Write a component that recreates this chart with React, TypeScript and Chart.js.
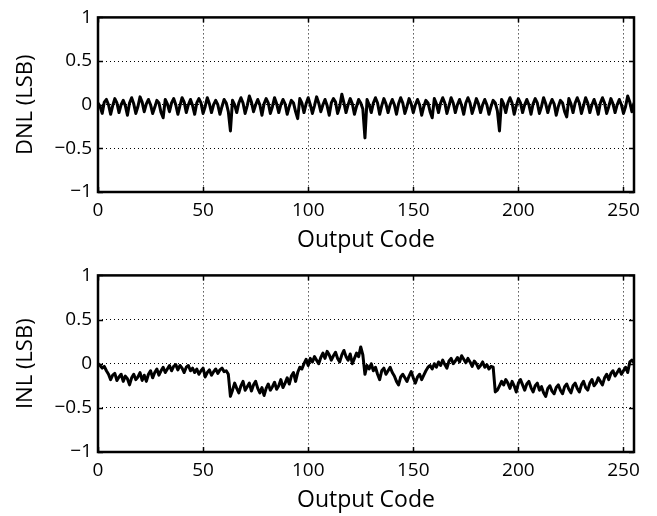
import React, { useEffect, useRef } from "react";
import { Chart, registerables } from "chart.js";

Chart.register(...registerables);

const xTicks = [0, 50, 100, 150, 200, 250];
const yTicks = [-1, -0.5, 0, 0.5, 1];
const yTickLabels: Record<string, string> = { "-1": "\u22121", "-0.5": "\u22120.5", "0": "0", "0.5": "0.5", "1": "1" };

const dnl = [
  0.02, -0.02, -0.1, 0.03, 0.06, 0.0, -0.11, -0.01, 0.07, 0.02, -0.09, 0.0, 0.05, -0.01, -0.12, 0.02,
  0.08, 0.01, -0.1, -0.02, 0.09, 0.03, -0.08, 0.01, 0.06, 0.0, -0.1, -0.03, 0.05, 0.02, -0.09, -0.15,
  0.06, 0.01, -0.08, 0.02, 0.07, 0.0, -0.11, -0.01, 0.08, 0.03, -0.09, 0.0, 0.06, -0.01, -0.11, 0.02,
  0.07, 0.02, -0.1, -0.02, 0.08, 0.01, -0.09, 0.0, 0.05, 0.0, -0.11, -0.02, 0.06, 0.02, -0.08, -0.3,
  0.05, 0.0, -0.09, 0.02, 0.08, 0.02, -0.1, -0.01, 0.1, 0.03, -0.08, 0.0, 0.06, 0.0, -0.12, 0.01,
  0.07, 0.02, -0.1, -0.02, 0.08, 0.01, -0.09, 0.0, 0.06, 0.01, -0.11, -0.02, 0.05, 0.02, -0.08, -0.16,
  0.07, 0.02, -0.09, 0.01, 0.08, 0.0, -0.1, -0.01, 0.09, 0.02, -0.08, 0.0, 0.06, -0.01, -0.12, 0.02,
  0.07, 0.03, -0.1, -0.02, 0.12, 0.02, -0.09, 0.0, 0.07, 0.01, -0.11, -0.02, 0.06, 0.02, -0.05, -0.38,
  0.06, 0.0, -0.09, 0.02, 0.08, 0.02, -0.11, -0.01, 0.07, 0.01, -0.09, 0.0, 0.06, 0.0, -0.11, 0.01,
  0.08, 0.02, -0.1, -0.02, 0.07, 0.01, -0.09, 0.0, 0.06, 0.0, -0.12, -0.02, 0.05, 0.02, -0.08, -0.15,
  0.07, 0.01, -0.09, 0.02, 0.08, 0.02, -0.1, -0.01, 0.08, 0.02, -0.09, 0.0, 0.06, -0.01, -0.11, 0.02,
  0.08, 0.02, -0.1, -0.02, 0.07, 0.01, -0.09, 0.0, 0.06, 0.0, -0.11, -0.02, 0.05, 0.02, -0.07, -0.3,
  0.06, 0.01, -0.09, 0.02, 0.08, 0.02, -0.11, -0.01, 0.07, 0.02, -0.09, 0.0, 0.06, 0.0, -0.11, 0.01,
  0.07, 0.02, -0.1, -0.02, 0.08, 0.01, -0.09, 0.0, 0.06, 0.01, -0.12, -0.02, 0.05, 0.02, -0.08, -0.14,
  0.07, 0.01, -0.09, 0.02, 0.08, 0.02, -0.1, -0.01, 0.08, 0.02, -0.09, 0.0, 0.06, -0.01, -0.11, 0.02,
  0.08, 0.02, -0.1, -0.02, 0.07, 0.01, -0.09, 0.0, 0.06, 0.0, -0.1, -0.02, 0.1, 0.03, -0.08, 0.02,
];

const inl = [
  0.0, -0.02, -0.05, -0.03, -0.08, -0.12, -0.18, -0.13, -0.11, -0.19, -0.15, -0.12, -0.2, -0.14, -0.17, -0.24,
  -0.16, -0.12, -0.18, -0.15, -0.1, -0.19, -0.13, -0.2, -0.12, -0.08, -0.16, -0.1, -0.06, -0.13, -0.08, -0.04,
  -0.1, -0.06, -0.02, -0.08, -0.03, -0.01, -0.07, -0.02, -0.05, -0.1, -0.04, -0.02, -0.08, -0.05, -0.1, -0.06,
  -0.12, -0.08, -0.05, -0.15, -0.1, -0.07, -0.13, -0.09, -0.06, -0.11, -0.07, -0.05, -0.09, -0.08, -0.12, -0.37,
  -0.3, -0.22, -0.28, -0.33, -0.25, -0.2, -0.3, -0.26, -0.22, -0.31, -0.24, -0.2, -0.28, -0.33, -0.27, -0.36,
  -0.28, -0.23, -0.3, -0.26, -0.21, -0.29, -0.25, -0.18, -0.27, -0.22, -0.16, -0.23, -0.14, -0.1, -0.2, -0.1,
  -0.04, -0.06, 0.0, 0.05, -0.02, 0.06, 0.02, 0.08, 0.04, 0.0, 0.07, 0.12, 0.06, 0.14, 0.1, 0.04,
  0.09, 0.13, 0.06, 0.02, 0.1, 0.15, 0.08, 0.04, 0.11, 0.0, 0.06, 0.12, 0.08, 0.19, 0.1, -0.12,
  -0.02, -0.06, 0.0, -0.08, -0.04, -0.12, -0.18, -0.08, -0.05, -0.12, -0.08, -0.04, -0.1, -0.14, -0.2, -0.24,
  -0.15, -0.12, -0.16, -0.2, -0.14, -0.09, -0.16, -0.22, -0.15, -0.12, -0.18, -0.13, -0.08, -0.04, -0.02, -0.06,
  0.0, -0.04, 0.02, -0.02, 0.04, -0.01, -0.05, 0.03, 0.06, 0.0, 0.03, 0.07, 0.02, 0.09, 0.05, 0.01,
  0.06, 0.02, -0.03, 0.03, 0.0, -0.05, -0.02, 0.02, -0.04, -0.01, -0.06, -0.03, -0.04, -0.32, -0.3, -0.25,
  -0.2, -0.24, -0.18, -0.22, -0.28, -0.2, -0.25, -0.32, -0.22, -0.18, -0.24, -0.3, -0.23, -0.2, -0.27, -0.32,
  -0.25, -0.22, -0.3, -0.26, -0.33, -0.37, -0.28, -0.25, -0.31, -0.34, -0.27, -0.24, -0.3, -0.34, -0.26, -0.23,
  -0.29, -0.33, -0.25, -0.22, -0.28, -0.32, -0.24, -0.2, -0.27, -0.3, -0.22, -0.18, -0.25, -0.22, -0.16, -0.2,
  -0.24, -0.16, -0.12, -0.18, -0.11, -0.08, -0.14, -0.1, -0.06, -0.12, -0.08, -0.04, -0.1, 0.02, 0.04, 0.01,
];

const FONT = "'Open Sans', 'Liberation Sans', sans-serif";
const W = 657;
const H = 258;
const PLOT_LEFT = 98;
const PLOT_RIGHT = 634;

const framePlugin = {
  id: "frame",
  afterDraw(chart: any) {
    const { ctx, chartArea } = chart;
    const { left, right, top, bottom } = chartArea;
    const xs = chart.scales.x;
    const ys = chart.scales.y;
    ctx.save();
    ctx.strokeStyle = "#000";
    ctx.lineWidth = 1.5;
    const tl = 5;
    ctx.beginPath();
    for (const v of xTicks) {
      const px = Math.round(xs.getPixelForValue(v)) + 0.5;
      ctx.moveTo(px, bottom);
      ctx.lineTo(px, bottom - tl);
      ctx.moveTo(px, top);
      ctx.lineTo(px, top + tl);
    }
    for (const v of yTicks) {
      const py = Math.round(ys.getPixelForValue(v)) + 0.5;
      ctx.moveTo(left, py);
      ctx.lineTo(left + tl, py);
      ctx.moveTo(right, py);
      ctx.lineTo(right - tl, py);
    }
    ctx.stroke();
    ctx.lineWidth = 2.5;
    ctx.strokeRect(left, top, right - left, bottom - top);
    ctx.restore();
  },
};

function makeConfig(values: number[], yLabel: string, top: number, bottom: number, xTitlePad: number): any {
  return {
    type: "line",
    data: {
      datasets: [
        {
          data: values.map((v, i) => ({ x: i, y: v })),
          borderColor: "#000",
          borderWidth: 3,
          pointRadius: 0,
          tension: 0,
          fill: false,
          borderJoinStyle: "round",
        },
      ],
    },
    options: {
      animation: false,
      responsive: false,
      devicePixelRatio: 1,
      layout: { padding: { left: 0, right: W - PLOT_RIGHT, top: top, bottom: 0 } },
      plugins: { legend: { display: false }, tooltip: { enabled: false } },
      scales: {
        x: {
          type: "linear",
          min: 0,
          max: 255,
          afterBuildTicks: (s: any) => {
            s.ticks = xTicks.map((v) => ({ value: v }));
          },
          afterFit: (s: any) => {
            s.height = H - bottom;
          },
          grid: { color: "#000", lineWidth: 1, drawTicks: false },
          border: { display: false, dash: [1, 3] },
          ticks: {
            color: "#000",
            font: { family: FONT, size: 19 },
            padding: 7,
            maxRotation: 0,
            autoSkip: false,
          },
          title: {
            display: true,
            text: "Output Code",
            color: "#000",
            font: { family: FONT, size: 23 },
            padding: { top: 0, bottom: xTitlePad },
          },
        },
        y: {
          type: "linear",
          min: -1,
          max: 1,
          afterBuildTicks: (s: any) => {
            s.ticks = yTicks.map((v) => ({ value: v }));
          },
          afterFit: (s: any) => {
            s.width = PLOT_LEFT;
          },
          grid: { color: "#000", lineWidth: 1, drawTicks: false },
          border: { display: false, dash: [1, 3] },
          ticks: {
            color: "#000",
            font: { family: FONT, size: 19 },
            padding: 6,
            autoSkip: false,
            callback: (v: number) => yTickLabels[String(v)] ?? String(v),
          },
          title: {
            display: true,
            text: yLabel,
            color: "#000",
            font: { family: FONT, size: 22 },
            padding: { top: 13, bottom: 0 },
          },
        },
      },
    },
    plugins: [framePlugin],
  };
}

function ChartCanvas({ values, yLabel, top, bottom, xTitlePad }: { values: number[]; yLabel: string; top: number; bottom: number; xTitlePad: number }) {
  const ref = useRef<HTMLCanvasElement | null>(null);
  useEffect(() => {
    if (!ref.current) return;
    const cfg = makeConfig(values, yLabel, top, bottom, xTitlePad);
    cfg.options.scales.x.border.dash = [1, 3];
    cfg.options.scales.y.border.dash = [1, 3];
    const chart = new Chart(ref.current, cfg);
    return () => chart.destroy();
  }, []);
  return <canvas ref={ref} width={W} height={H} style={{ display: "block", width: W, height: H }} />;
}

export default function App() {
  useEffect(() => {
    document.body.style.margin = "0";
  }, []);
  return (
    <div style={{ width: W, height: 516, background: "#fff" }}>
      <ChartCanvas values={dnl} yLabel="DNL (LSB)" top={14} bottom={192} xTitlePad={4} />
      <ChartCanvas values={inl} yLabel="INL (LSB)" top={15} bottom={194} xTitlePad={2} />
    </div>
  );
}
